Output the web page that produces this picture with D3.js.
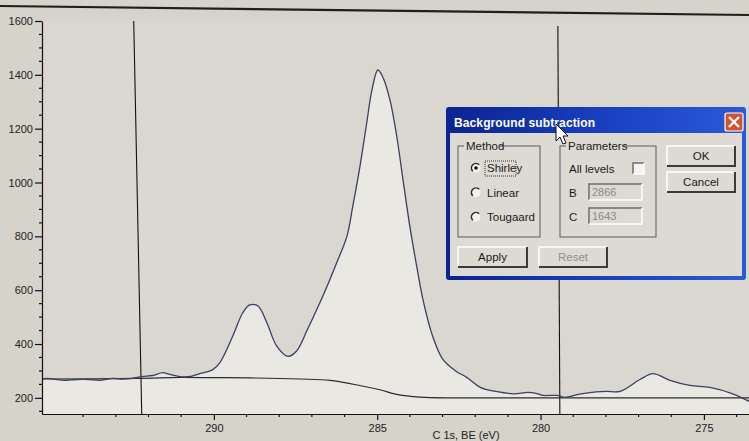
<!DOCTYPE html>
<html><head><meta charset="utf-8">
<script src="https://cdn.jsdelivr.net/npm/d3@7"></script>
<style>
html,body{margin:0;padding:0;background:#d5d3ca;}
svg{display:block;font-family:"Liberation Sans",Arial,sans-serif;}
</style></head>
<body><svg id="c" width="749" height="441"></svg>
<script>
// ---- data ----
const bindingEnergy = [295.26,295.1,294.8,294.5,294.2,293.8,293.5,293.1,292.8,292.5,292.2,291.87,291.56,291.35,291.04,290.7,290.43,290.03,289.82,289.42,289.11,288.9,288.65,288.38,288.07,287.73,287.46,287.15,286.85,286.54,286.24,285.93,285.75,285.53,285.32,285.16,284.98,284.83,284.61,284.4,284.21,284.0,283.79,283.6,283.3,282.99,282.6,282.26,281.83,281.37,280.82,280.39,280.11,279.93,279.5,279.26,278.8,278.3,277.97,277.57,276.96,276.56,276.04,275.43,274.82,274.14,273.62];
const intensity = [268,272,268,265,268,268,265,272,270,272,279,283,294,287,279,280,290,305,330,430,517,545,541,480,391,354,375,450,528,613,702,799,910,1058,1222,1344,1418,1392,1307,1170,1010,836,688,565,428,343,300,276,238,224,215,220,216,209,209,202,214,222,224,224,268,290,265,246,239,216,187];
const backgroundBE = [295.26,292.33,291.04,290.0,288.9,287.37,286.45,285.5,284.92,284.37,283.69,282.78,281.5,279.44,273.62];
const backgroundCounts = [270,272,276,275,274,270,265,245,230,212,203,200,200,200,200];
const yTickValues = [200,400,600,800,1000,1200,1400,1600];
const xTickValues = [290,285,280,275];
const cursorBE = [292.33,279.44];
const xLabel = "C 1s, BE (eV)";
const methods = ["Shirley","Linear","Tougaard"];
const paramB = "2866", paramC = "1643";

// ---- scales ----
const svg = d3.select("#c");
const x = d3.scaleLinear().domain([295.26,273.62]).range([42,749]);
const y = d3.scaleLinear().domain([140,1600]).range([414,21]);
const data = bindingEnergy.map((e,i)=>({e,v:intensity[i]}));
const bg = backgroundBE.map((e,i)=>({e,v:backgroundCounts[i]}));
const smooth = d3.curveCatmullRom.alpha(0.5);

// photo top edge line
svg.append("path").attr("d","M0,6 L749,15").attr("stroke","#1e1e1e").attr("stroke-width",2.2);

// plot area
svg.append("rect").attr("x",42).attr("y",20).attr("width",707).attr("height",394).attr("fill","#d9d7cf");
// under-curve fill
svg.append("path").datum(data)
  .attr("d",d3.area().curve(smooth).x(d=>x(d.e)).y0(y(140)).y1(d=>y(d.v)))
  .attr("fill","#e9e8e3");
// cursor lines
cursorBE.forEach((c,i)=>{
  svg.append("line").attr("x1",x(c)-(i?1:4)).attr("x2",x(c)+(i?1:4)).attr("y1",i?26:21).attr("y2",414)
    .attr("stroke","#111").attr("stroke-width",1.1);
});
// background line
svg.append("path").datum(bg).attr("d",d3.line().curve(smooth).x(d=>x(d.e)).y(d=>y(d.v)))
  .attr("fill","none").attr("stroke","#2c2c30").attr("stroke-width",1.2);
// data line
svg.append("path").datum(data).attr("d",d3.line().curve(smooth).x(d=>x(d.e)).y(d=>y(d.v)))
  .attr("fill","none").attr("stroke","#3b3f63").attr("stroke-width",1.3);

// axes
const yAx = d3.axisLeft(y).tickValues(yTickValues).tickFormat(d3.format("d")).tickSize(7).tickPadding(2).tickSizeOuter(0);
const gy = svg.append("g").attr("transform","translate(42,0)").call(yAx);
const yMinor = d3.range(150,1601,50).filter(v=>v%200!==0);
gy.selectAll(".mn").data(yMinor).enter().append("line").attr("x1",-3).attr("x2",0)
  .attr("y1",d=>y(d)).attr("y2",d=>y(d)).attr("stroke","#111");
const xAx = d3.axisBottom(x).tickValues(xTickValues).tickFormat(d3.format("d")).tickSize(6).tickPadding(4).tickSizeOuter(0);
const gx = svg.append("g").attr("transform","translate(0,414)").call(xAx);
const xMinor = d3.range(274,296,1).filter(v=>v%5!==0);
gx.selectAll(".mn").data(xMinor).enter().append("line").attr("y1",0).attr("y2",3)
  .attr("x1",d=>x(d)).attr("x2",d=>x(d)).attr("stroke","#111");
[gy,gx].forEach(g=>{
  g.selectAll("path,line").attr("stroke","#111").attr("stroke-width",1.2);
  g.selectAll("text").attr("fill","#222").style("font-size","11px").style("font-family","'Liberation Sans',Arial,sans-serif");
});
svg.append("text").attr("x",466).attr("y",439).attr("text-anchor","middle")
  .style("font-size","11px").attr("fill","#222").text(xLabel);

// ---- dialog ----
const dlg = svg.append("g");
const F = "'Liberation Sans',Arial,sans-serif";
function bevel(g,x0,y0,w,h,raised){
  const lt = raised?"#ffffff":"#6c6c6c", dk = raised?"#3a3a3a":"#ffffff";
  g.append("path").attr("d",`M${x0},${y0+h} V${y0} H${x0+w}`).attr("fill","none").attr("stroke",lt).attr("stroke-width",1.5);
  g.append("path").attr("d",`M${x0+w},${y0} V${y0+h} H${x0}`).attr("fill","none").attr("stroke",dk).attr("stroke-width",raised?2:1.5);
}
function txt(g,s,x0,y0,opt={}){
  return g.append("text").attr("x",x0).attr("y",y0).attr("fill",opt.fill||"#1a1a1a")
    .attr("text-anchor",opt.anchor||"start").style("font-family",F)
    .style("font-size",(opt.size||11.5)+"px").style("font-weight",opt.bold?"bold":"normal").text(s);
}
// frame
const grad = svg.append("defs").append("linearGradient").attr("id","tb").attr("x1",0).attr("x2",1);
grad.append("stop").attr("offset",0).attr("stop-color","#0b2390");
grad.append("stop").attr("offset",0.6).attr("stop-color","#1c44c6");
grad.append("stop").attr("offset",1).attr("stop-color","#2a5ad8");
dlg.append("rect").attr("x",446).attr("y",107).attr("width",300).attr("height",173).attr("rx",3)
  .attr("fill","url(#tb)");
dlg.append("rect").attr("x",450).attr("y",133).attr("width",292).attr("height",143).attr("fill","#dcdad3");
txt(dlg,"Background subtraction",454,127,{fill:"#ffffff",bold:true,size:12}).attr("textLength",141);
// close button
dlg.append("rect").attr("x",725).attr("y",113).attr("width",18).attr("height",18).attr("rx",2)
  .attr("fill","#d4532f").attr("stroke","#ffffff").attr("stroke-width",1.2);
dlg.append("path").attr("d","M729,117 L739,127 M739,117 L729,127").attr("stroke","#fff").attr("stroke-width",2.4);
// group boxes
function group(x0,y0,w,h,label,lw){
  dlg.append("rect").attr("x",x0).attr("y",y0).attr("width",w).attr("height",h).attr("fill","none").attr("stroke","#5a5a5a").attr("stroke-width",1);
  dlg.append("rect").attr("x",x0+6).attr("y",y0-6).attr("width",lw).attr("height",12).attr("fill","#dcdad3");
  txt(dlg,label,x0+8,y0+4);
}
group(458,146,82,91,"Method",36);
group(560,146,96,91,"Parameters",56);
// radios
methods.forEach((m,i)=>{
  const cy = 168 + i*24.5, cx = 476;
  dlg.append("circle").attr("cx",cx).attr("cy",cy).attr("r",4.5).attr("fill","#f2f2f0");
  dlg.append("path").attr("d",`M${cx+3.2},${cy-3.2} A4.5,4.5 0 0 0 ${cx-3.2},${cy+3.2}`).attr("fill","none").attr("stroke","#2a2a2a").attr("stroke-width",1.6);
  if(i===0) dlg.append("circle").attr("cx",cx).attr("cy",cy).attr("r",1.8).attr("fill","#111");
  txt(dlg,m,487,cy+4);
});
dlg.append("rect").attr("x",485).attr("y",161).attr("width",31).attr("height",15).attr("fill","none")
  .attr("stroke","#333").attr("stroke-dasharray","1,1");
// parameters
txt(dlg,"All levels",569,173);
dlg.append("rect").attr("x",633).attr("y",163).attr("width",11).attr("height",11).attr("fill","#f4f4f2");
bevel(dlg,633,163,11,11,false);
txt(dlg,"B",569,197); txt(dlg,"C",569,221);
[[184,paramB],[208,paramC]].forEach(([yy,val])=>{
  dlg.append("rect").attr("x",589).attr("y",yy).attr("width",53).attr("height",16).attr("fill","#dcdad3");
  bevel(dlg,589,yy,53,16,false);
  txt(dlg,val,592,yy+12,{fill:"#8a8a8a",size:11});
});
// buttons
function button(x0,y0,w,h,label,fill){
  bevel(dlg,x0,y0,w,h,true);
  txt(dlg,label,x0+w/2,y0+h/2+4,{anchor:"middle",fill:fill||"#1a1a1a"});
}
button(667,146,68,20,"OK");
button(667,172,68,20,"Cancel");
button(458,247,69,20,"Apply");
button(539,247,68,20,"Reset","#8f8f8f");
// mouse pointer
dlg.append("path").attr("d","M556,124 L556,141 L560,137 L563,144 L566,143 L563,136 L568,136 Z")
  .attr("fill","#fff").attr("stroke","#111").attr("stroke-width",1);
</script></body></html>
